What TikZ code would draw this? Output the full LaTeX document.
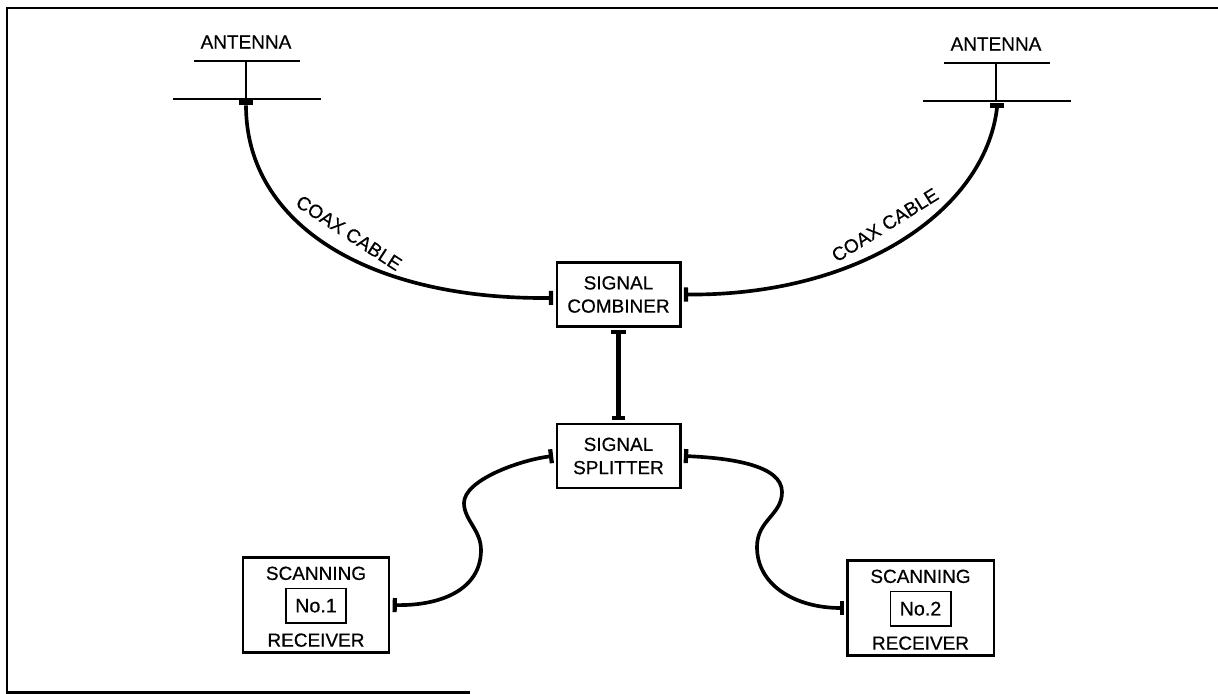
\documentclass[tikz,border=0pt]{standalone}
\usepackage{fontspec}
\setmainfont{Liberation Sans}[FakeBold=0.5]
\usetikzlibrary{arrows.meta}
\tikzstyle{unit}=[draw,line width=1.6pt,inner sep=0pt,outer sep=2.5pt,align=center,
                  font=\fontsize{13.5}{16.5}\selectfont]
\tikzstyle{tag}=[draw,line width=1.1pt,inner sep=0pt,minimum width=43pt,minimum height=24.5pt,
                  font=\fontsize{14}{16}\selectfont]
\tikzstyle{caption}=[inner sep=0pt,font=\fontsize{13.5}{16.5}\selectfont]
\tikzstyle{plug}=[fill=black,inner sep=0pt]
\tikzstyle{rod}=[line width=1.3pt]
\tikzstyle{coax}=[line width=2.6pt,-{Bar[width=10pt,line width=3pt]}]
\tikzstyle{coaxboth}=[line width=2.6pt,{Bar[width=10pt,line width=3pt]}-{Bar[width=10pt,line width=3pt]}]
\begin{document}
\begin{tikzpicture}[x=0.025cm,y=-0.025cm]
      \useasboundingbox (0,0) rectangle (1218,694);
      \draw[line width=1.8pt] (1218,8) -- (7,8) -- (7,692.5) -- (470,692.5);
      %
      % Place the two antennas
      \foreach \mast/\top/\low/\name in {246/61/99/a, 996/63/101/b}
      {
        \draw[rod] (\mast-52,\top) -- (\mast+54,\top);
        \draw[rod] (\mast-73,\low) -- (\mast+75,\low);
        \draw[rod] (\mast,\top) -- (\mast,\low);
        \node[caption] (ant\name) at (\mast,\top-19) {ANTENNA};
      }
      \node[plug, minimum width=10.5pt, minimum height=4.5pt] (plugA) at (246,102) {};
      \node[plug, minimum width=10pt, minimum height=3pt] (plugB) at (997,105.5) {};
      %
      % Place the boxes
      \foreach \place/\name/\txt in {{(618.5,294.5)/combiner/SIGNAL\\COMBINER}, {(618.5,456)/splitter/SIGNAL\\SPLITTER}}
        \node[unit, minimum width=88pt, minimum height=45.5pt] (\name) at \place {\txt};
      \foreach \place/\i in {{(316,605)/1}, {(920.5,608)/2}}
      {
        \node[unit, minimum width=104pt, minimum height=67.5pt] (rx\i) at \place {};
        \node[tag] (tag\i) at ([yshift=-0.5pt]rx\i.center) {No.\i};
        \node[caption] (scan\i) at ([yshift=23pt]tag\i.center) {SCANNING};
        \node[caption] (recv\i) at ([yshift=-24.5pt]tag\i.center) {RECEIVER};
      }
      %
      % Connect them
      \draw[coax] (plugA.south) .. controls (246,225) and (370,300) .. (combiner.183);
      \draw[coax] (plugB.south) .. controls (985,210) and (860,296) .. (combiner.east);
      \draw[line width=2.9pt,{Bar[width=10pt,line width=3pt]}-{Bar[width=9pt,line width=3pt]}] (combiner) -- (splitter);
      \draw[coaxboth] (splitter.west) .. controls (520,460) and (464,480) .. (464,503)
                  .. controls (464,520) and (481,530) .. (481,550)
                  .. controls (481,590) and (440,606) .. (rx1.east);
      \draw[coaxboth] (splitter.east) .. controls (730,458) and (782,465) .. (782,492)
                  .. controls (782,515) and (757,520) .. (757,547)
                  .. controls (757,585) and (795,608) .. (rx2.west);
      %
      % Cable labels
      \node[caption, rotate=-33] (coaxA) at (349,233) {COAX CABLE};
      \node[caption, rotate=32] (coaxB) at (885,225) {COAX CABLE};
    \end{tikzpicture}
\end{document}
